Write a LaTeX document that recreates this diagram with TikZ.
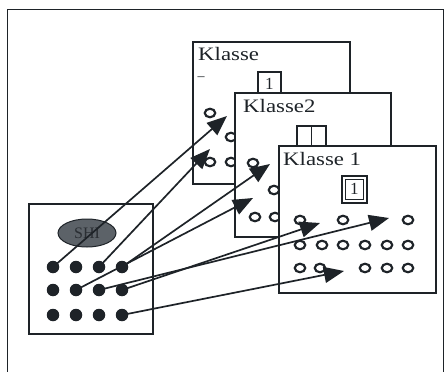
\documentclass[tikz,border=0pt]{standalone}
\usepackage{fontspec}
\setmainfont{Liberation Serif}
\usetikzlibrary{arrows.meta,shapes.geometric}
\definecolor{ink}{HTML}{1E2328}
\definecolor{shi}{HTML}{5C6268}
\definecolor{shitext}{HTML}{2A2E33}
\tikzset{
  panel/.style={draw=ink, line width=1.6pt, fill=white, anchor=north west, inner sep=0pt},
  dot/.style={circle, fill=ink, draw=none, minimum size=12.5pt, inner sep=0pt},
  slot/.style={ellipse, draw=ink, line width=2.2pt, fill=white, minimum width=10.5pt, minimum height=8.5pt, inner sep=0pt},
  title/.style={anchor=base west, font=\fontsize{19}{20}\selectfont, text=ink, inner sep=0pt, xscale=1.2},
  numbox/.style={draw=ink, line width=1.5pt, fill=white, anchor=north west, inner sep=0pt, font=\fontsize{17}{17}\selectfont, text=ink},
  link/.style={draw=ink, line width=1.7pt, -{Triangle[length=20pt,width=16pt]}}
}
\begin{document}
\begin{tikzpicture}[x=1pt,y=-1pt]
\useasboundingbox (0,0) rectangle (445,372);
% outer frame
\draw[ink, line width=1pt] (7.5,380) -- (7.5,9.5) -- (443.5,9.5) -- (443.5,380);

% back panel: Klasse
\node[panel, minimum width=157pt, minimum height=142pt] (k0) at (192,41) {};
\node[title] (k0t) at (198,60) {Klasse};
\node[anchor=center, inner sep=0pt, text=ink, font=\fontsize{14}{14}\selectfont] (k0d) at (201,79) {–};
\node[numbox, minimum width=23pt, minimum height=24pt] (k0n) at (257,71) {1};
\node[slot] (k0s1) at (210,113) {};
\node[slot] (k0s2) at (210,162) {};
\node[slot] (k0s3) at (231,137) {};
\node[slot] (k0s4) at (231,162) {};

% middle panel: Klasse2
\node[panel, minimum width=156pt, minimum height=144pt] (k2) at (234,92) {};
\node[title] (k2t) at (243,112) {Klasse2};
\node[numbox, minimum width=29pt, minimum height=24pt] (k2n) at (296,125) {};
\draw[ink, line width=1.5pt] (k2n.north) -- (k2n.south);
\node[slot] (k2s1) at (253,163) {};
\node[slot] (k2s2) at (274,190) {};
\node[slot] (k2s3) at (255,217) {};
\node[slot] (k2s4) at (275,217) {};

% front panel: Klasse 1
\node[panel, minimum width=157pt, minimum height=147pt] (k1) at (278,145) {};
\node[title] (k1t) at (283,165) {Klasse 1};
\node[numbox, minimum width=25pt, minimum height=27pt] (k1n) at (341,175) {};
\node[draw=ink, line width=1pt, minimum width=18pt, minimum height=20pt, inner sep=0pt, font=\fontsize{17}{17}\selectfont, text=ink] (k1m) at (k1n.center) {1};
\node[slot] (a1) at (300,220) {};
\node[slot] (a2) at (343,220) {};
\node[slot] (a3) at (408,220) {};
\node[slot] (b1) at (300,245) {};
\node[slot] (b2) at (322,245) {};
\node[slot] (b3) at (343,245) {};
\node[slot] (b4) at (365,245) {};
\node[slot] (b5) at (387,245) {};
\node[slot] (b6) at (408,245) {};
\node[slot] (c1) at (300,268) {};
\node[slot] (c2) at (320,268) {};
\node[slot] (c3) at (365,268) {};
\node[slot] (c4) at (387,268) {};
\node[slot] (c5) at (408,268) {};

% left panel
\node[panel, minimum width=124pt, minimum height=130pt] (src) at (28,203) {};
\node[ellipse, fill=shi, draw=ink, line width=1pt, minimum width=58pt, minimum height=28pt, inner sep=0pt, text=shitext, font=\fontsize{16}{16}\selectfont] (shi) at (87,233) {SHI};
\foreach \r/\y in {1/267,2/290,3/315}{
  \foreach \c/\x in {1/53,2/76,3/99,4/122}{
    \node[dot] (d\r\c) at (\x,\y) {};
  }
}

% arrow tips
\coordinate (ta) at (227,116);
\coordinate (tb) at (210,149);
\coordinate (tc) at (270,164);
\coordinate (td) at (253,198);
\coordinate (te) at (320,223);
\coordinate (tf) at (389,218);
\coordinate (tg) at (344,271);

\draw[link] (d11.center) -- (ta);
\draw[link] (d13.center) -- (tb);
\draw[link] (d14.center) -- (tc);
\draw[link] (d22.center) -- (td);
\draw[link] (d24.center) -- (te);
\draw[link] (d23.center) -- (tf);
\draw[link] (d34.center) -- (tg);
\end{tikzpicture}
\end{document}
